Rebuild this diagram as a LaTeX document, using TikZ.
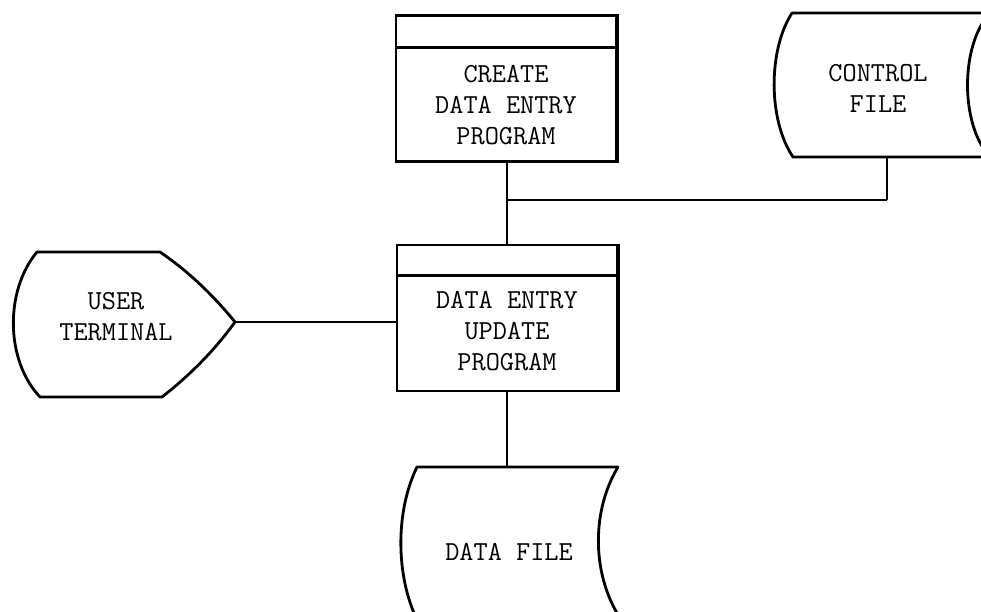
\documentclass[tikz,border=0pt]{standalone}
\begin{document}
\begin{tikzpicture}[x=1pt,y=-1pt,
  outline/.style={line width=2.8pt,line join=round},
  wire/.style={line width=2.8pt},
  thinwire/.style={line width=1.9pt},
  procbox/.style={draw,line width=2.8pt,minimum width=220pt,minimum height=146pt,inner sep=0pt},
  lbl/.style={font=\ttfamily\fontsize{27.5}{31}\selectfont,align=center,inner sep=0pt}]
\useasboundingbox (0,0) rectangle (981,611);
\clip (0,0) rectangle (981,611);

% process boxes with their header strips
\node[procbox] (create) at (506,88.5) {};
\draw[outline] ([yshift=-33pt]create.north west) -- ([yshift=-33pt]create.north east);
\draw[line width=3.8pt] (create.north east) -- (create.south east);
\node[lbl] (createtxt) at (506,105) {CREATE\\DATA ENTRY\\PROGRAM};

\node[procbox] (update) at (507,318) {};
\draw[outline] ([yshift=-32pt]update.north west) -- ([yshift=-32pt]update.north east);
\draw[line width=3.8pt] (update.north east) -- (update.south east);
\node[lbl] (updatetxt) at (507,331) {DATA ENTRY\\UPDATE\\PROGRAM};

% control file (stored data)
\draw[outline] (1000,13) -- (792,13)
  .. controls (768,50) and (768,120) .. (793,157) -- (1000,157);
\draw[outline] (990,13) .. controls (960,45) and (960,125) .. (990,157);
\coordinate (ctrlb) at (887,157);
\node[lbl] (ctrltxt) at (878,88) {CONTROL\\FILE};

% data file (stored data)
\draw[outline] (414,613) .. controls (396,570) and (396,510) .. (417,467)
  -- (618,467) .. controls (592,510) and (592,570) .. (617,613);
\coordinate (datat) at (507,467);
\node[lbl] (datatxt) at (509,552) {DATA FILE};

% user terminal (display)
\draw[outline] (40,397) .. controls (5,360) and (5,290) .. (37,252) -- (160,252)
  .. controls (188,271) and (213,295) .. (235,322)
  .. controls (214.5,350.5) and (189.5,375.5) .. (162,397) -- cycle;
\coordinate (termtip) at (235,322);
\node[lbl] (termtxt) at (116,317) {USER\\TERMINAL};

% connectors
\coordinate (junction) at (507,200);
\draw[wire] (create.south -| junction) -- (update.north -| junction);
\draw[wire] (ctrlb) -- (ctrlb |- junction);
\draw[thinwire] (ctrlb |- junction) -- (junction);
\draw[thinwire] (termtip) -- (termtip -| update.west);
\draw[wire] (update.south) -- (datat);
\end{tikzpicture}
\end{document}
